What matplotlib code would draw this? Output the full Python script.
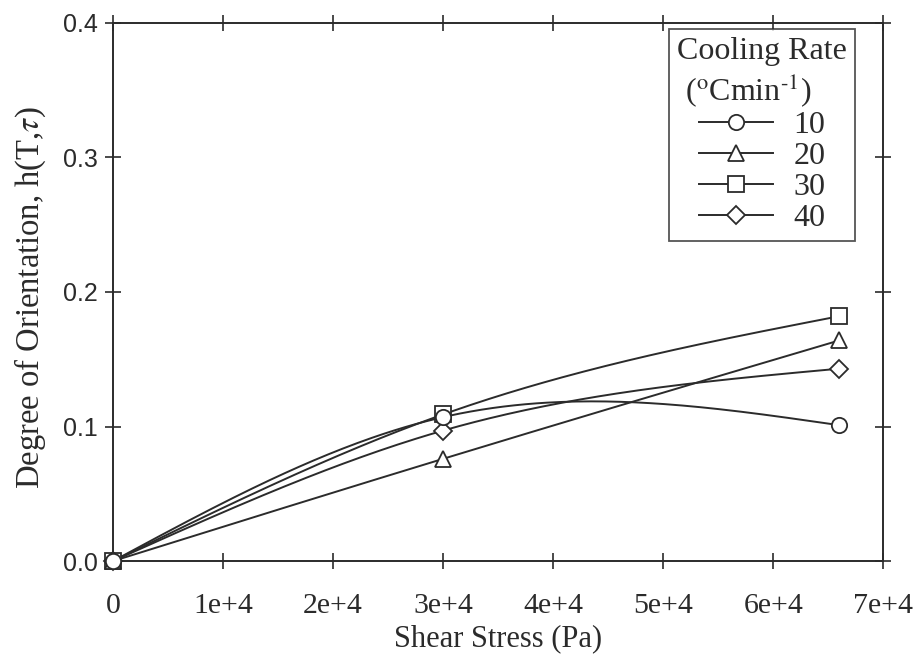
import numpy as np
import matplotlib
matplotlib.use("Agg")
import matplotlib.pyplot as plt

plt.rcParams["font.family"] = ["Liberation Serif", "DejaVu Serif"]
plt.rcParams["mathtext.fontset"] = "stix"

# shear stress (Pa) and degree of orientation per cooling rate
stress = [0.0, 3.0e4, 6.6e4]
rate_10 = [0.0, 0.107, 0.101]
rate_20 = [0.0, 0.076, 0.164]
rate_30 = [0.0, 0.109, 0.182]
rate_40 = [0.0, 0.097, 0.143]
rate_labels = ["10", "20", "30", "40"]
rate_markers = ["o", "^", "s", "D"]

xticks = [0, 1e4, 2e4, 3e4, 4e4, 5e4, 6e4, 7e4]
xtick_labels = ["0", "1e+4", "2e+4", "3e+4", "4e+4", "5e+4", "6e+4", "7e+4"]
yticks = [0.0, 0.1, 0.2, 0.3, 0.4]

INK = "#2b2b2b"


def natural_spline(x, y, n=200):
    # natural cubic spline through the points (second derivative zero at ends)
    x = np.asarray(x, float)
    y = np.asarray(y, float)
    k = len(x)
    h = np.diff(x)
    A = np.zeros((k, k))
    b = np.zeros(k)
    A[0, 0] = A[-1, -1] = 1.0
    for i in range(1, k - 1):
        A[i, i - 1] = h[i - 1]
        A[i, i] = 2 * (h[i - 1] + h[i])
        A[i, i + 1] = h[i]
        b[i] = 6 * ((y[i + 1] - y[i]) / h[i] - (y[i] - y[i - 1]) / h[i - 1])
    M = np.linalg.solve(A, b)
    xs = np.linspace(x[0], x[-1], n)
    idx = np.clip(np.searchsorted(x, xs) - 1, 0, k - 2)
    x0, x1 = x[idx], x[idx + 1]
    y0, y1 = y[idx], y[idx + 1]
    m0, m1 = M[idx], M[idx + 1]
    hh = h[idx]
    ys = (m0 * (x1 - xs) ** 3 / (6 * hh) + m1 * (xs - x0) ** 3 / (6 * hh)
          + (y0 / hh - m0 * hh / 6) * (x1 - xs) + (y1 / hh - m1 * hh / 6) * (xs - x0))
    return xs, ys


fig = plt.figure(figsize=(9.21, 6.64), dpi=100)
ax = fig.add_axes([0.1227, 0.155, 0.8363, 0.8105])

series = [rate_10, rate_20, rate_30, rate_40]
marker_z = [3.4, 3.1, 3.0, 3.2]  # circles end up on top at 3e4
for vals, lab, mk, mz in zip(series, rate_labels, rate_markers, marker_z):
    xs, ys = natural_spline(stress, vals)
    ax.plot(xs, ys, color=INK, lw=1.4, zorder=2)
    ms = 11 if mk != "D" else 9.5
    ax.plot(stress, vals, linestyle="none", marker=mk, ms=ms, mfc="white",
            mec=INK, mew=1.3, clip_on=False, zorder=mz)
    # legend proxy: line through the marker
    ax.plot([], [], color=INK, lw=1.4, marker=mk, ms=ms, mfc="white",
            mec=INK, mew=1.3, label=lab)

ax.set_xlim(0, 7e4)
ax.set_ylim(0, 0.4)
ax.set_xticks(xticks)
ax.set_xticklabels(xtick_labels, fontsize=21.5)
ax.set_yticks(yticks)
ax.set_yticklabels([f"{v:.1f}" for v in yticks], fontsize=18,
                   family=["Liberation Sans", "DejaVu Sans"])
ax.tick_params(direction="inout", length=12, width=1.2, color=INK,
               top=True, right=True, labelcolor=INK)
ax.tick_params(axis="x", pad=17)
ax.tick_params(axis="y", pad=5)
for sp in ax.spines.values():
    sp.set_color(INK)
    sp.set_linewidth(1.4)

ax.set_xlabel("Shear Stress (Pa)", fontsize=22, color=INK, labelpad=4)
ax.set_ylabel(r"Degree of Orientation, h(T,$\tau$)", fontsize=23.5, color=INK)
ax.yaxis.set_label_coords(-0.084, 0.49)

title = "Cooling Rate\n " + r"($^{\mathrm{o}}$Cmin$^{\text{-1}}$)"
leg = ax.legend(title=title, loc="upper right", bbox_to_anchor=(0.9636, 0.989),
                borderaxespad=0, fontsize=23, title_fontsize=23, frameon=True,
                fancybox=False, edgecolor=INK, handlelength=2.3,
                handletextpad=0.65, labelspacing=0.05, borderpad=0.25,
                numpoints=1)
leg.get_frame().set_linewidth(1.3)
leg.get_title().set_color(INK)
leg.get_title().set_multialignment("left")
for t in leg.get_texts():
    t.set_color(INK)

fig.savefig("out.png", dpi=100, facecolor="white")
